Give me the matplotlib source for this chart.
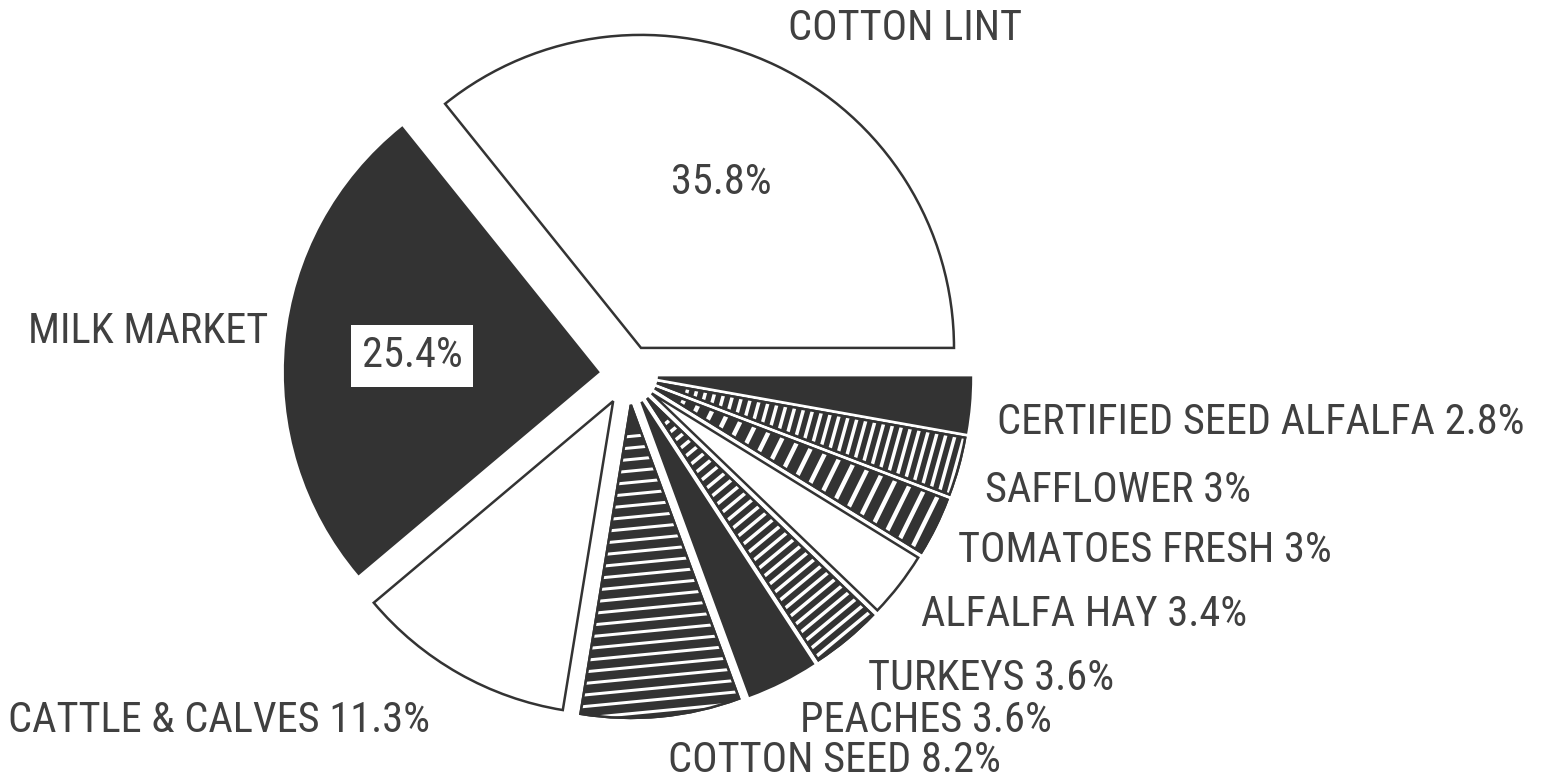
import matplotlib
matplotlib.use("Agg")
import matplotlib.pyplot as plt
import matplotlib.patches as mpatches
import numpy as np
from matplotlib import font_manager

# ---------------- data ----------------
categories = ["COTTON LINT", "MILK MARKET", "CATTLE & CALVES", "COTTON SEED",
              "PEACHES", "TURKEYS", "ALFALFA HAY", "TOMATOES FRESH",
              "SAFFLOWER", "CERTIFIED SEED ALFALFA"]
shares = [35.8, 25.4, 11.3, 8.2, 3.6, 3.6, 3.4, 3.0, 3.0, 2.8]
share_labels = ["35.8%", "25.4%", "11.3%", "8.2%", "3.6%", "3.6%",
                "3.4%", "3%", "3%", "2.8%"]

# ---------------- style / layout ----------------
W, H, DPI = 1562, 780, 100
R_PX = 313            # pie radius in pixels
CX, CY = 628, 375     # pie centre in pixels (from top-left)
EXPLODE = 0.096
INK = "#333333"
TXT = "#404040"

# fill style per slice: "white", "dark" or ("stripe", spacing_px, width_px)
fills = ["white", "dark", "white", ("stripe", 11.5, 3.0), "dark",
         ("stripe", 9.5, 3.5), "white", ("stripe", 15.0, 4.5),
         ("stripe", 9.0, 3.5), "dark"]

# label anchors (pixels): (x, y)
label_pos = {
    "COTTON LINT": (788, 28),
    "MILK MARKET": (28, 331),
    "CATTLE & CALVES": (8, 720),
    "COTTON SEED": (668, 761),
    "PEACHES": (800, 720),
    "TURKEYS": (868, 678),
    "ALFALFA HAY": (921, 614),
    "TOMATOES FRESH": (958, 551),
    "SAFFLOWER": (985, 490),
    "CERTIFIED SEED ALFALFA": (997, 422),
}
inner_pos = {"COTTON LINT": (721, 183), "MILK MARKET": (412, 356)}


def pick_font():
    for fam in ["Roboto Condensed", "Liberation Sans Narrow", "DejaVu Sans"]:
        try:
            font_manager.findfont(fam, fallback_to_default=False)
            return fam
        except Exception:
            continue
    return "DejaVu Sans"


FONT = pick_font()
FS = 30.5

fig = plt.figure(figsize=(W / DPI, H / DPI), dpi=DPI)
ax = fig.add_axes([0, 0, 1, 1])
wedges, _ = ax.pie(shares, startangle=0, counterclock=True,
                   explode=[EXPLODE] * len(shares), radius=1,
                   wedgeprops=dict(linewidth=1.8, edgecolor=INK,
                                   joinstyle="miter"))
ax.set_xlim(-CX / R_PX, (W - CX) / R_PX)
ax.set_ylim(-(H - CY) / R_PX, CY / R_PX)
ax.set_aspect("auto")
ax.axis("off")

px2pt = 72.0 / DPI
for w, f in zip(wedges, fills):
    if f == "white":
        w.set_facecolor("white")
    else:
        w.set_facecolor(INK)
        if isinstance(f, tuple):
            _, sp, lw = f
            cx, cy = w.center
            mid = np.deg2rad((w.theta1 + w.theta2) / 2)
            u = np.array([np.cos(mid), np.sin(mid)])
            v = np.array([-np.sin(mid), np.cos(mid)])
            step = sp / R_PX
            ts = np.arange(0.1, 1.05, step)
            for t in ts:
                p0 = np.array([cx, cy]) + t * u - 0.6 * v
                p1 = np.array([cx, cy]) + t * u + 0.6 * v
                ln, = ax.plot([p0[0], p1[0]], [p0[1], p1[1]], color="white",
                              lw=lw * px2pt, solid_capstyle="butt", zorder=3)
                ln.set_clip_path(w)
            ax.add_patch(mpatches.Wedge(
                w.center, w.r, w.theta1, w.theta2, facecolor="none",
                edgecolor=INK, linewidth=1.8, zorder=4))


def fig_xy(px, py):
    return px / W, 1 - py / H


for cat, lab in zip(categories, share_labels):
    x, y = label_pos[cat]
    text = cat if cat in inner_pos else f"{cat} {lab}"
    fig.text(*fig_xy(x, y), text, ha="left", va="center", fontsize=FS,
             color=TXT, family=FONT)

fig.text(*fig_xy(*inner_pos["COTTON LINT"]), share_labels[0], ha="center",
         va="center", fontsize=FS, color=TXT, family=FONT)
fig.text(*fig_xy(*inner_pos["MILK MARKET"]), share_labels[1], ha="center",
         va="center", fontsize=FS, color=TXT, family=FONT,
         bbox=dict(boxstyle="square,pad=0.25", fc="white", ec="none"))

fig.savefig("out.png", dpi=DPI, facecolor="white")
